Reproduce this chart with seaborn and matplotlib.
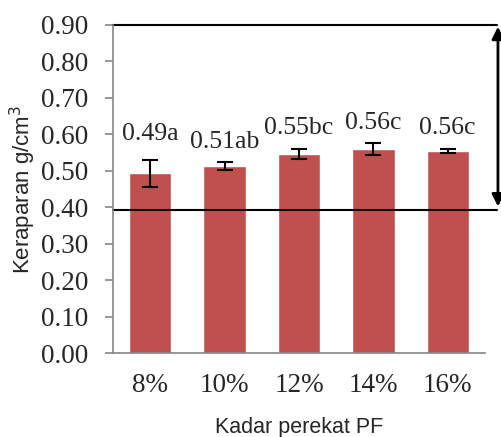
import numpy as np
import pandas as pd
import matplotlib
matplotlib.use("Agg")
import matplotlib.pyplot as plt
import matplotlib.transforms as mtransforms
import seaborn as sns

# data
kadar = ["8%", "10%", "12%", "14%", "16%"]
kerapatan = [0.493, 0.512, 0.546, 0.559, 0.555]
galat = [0.037, 0.011, 0.014, 0.016, 0.005]
notasi = ["0.49a", "0.51ab", "0.55bc", "0.56c", "0.56c"]
batas_bawah = 0.392
batas_atas = 0.90

df = pd.DataFrame({"kadar": kadar, "kerapatan": kerapatan})

sns.set_style("white")
serif = "Liberation Serif"
sans = "Liberation Sans"

fig, ax = plt.subplots(figsize=(5.02, 4.37), dpi=100)
fig.subplots_adjust(left=0.225, right=0.966, bottom=0.192, top=0.943)

sns.barplot(data=df, x="kadar", y="kerapatan", color="#C0504D", saturation=1,
            width=0.57, ax=ax, errorbar=None)
ax.errorbar(np.arange(len(kadar)), kerapatan, yerr=galat, fmt="none",
            ecolor="black", elinewidth=1.5, capsize=6, capthick=1.5)

# label di atas batang
for i, (v, e, t) in enumerate(zip(kerapatan, galat, notasi)):
    ax.annotate(t, (i, v + e), xytext=(0, 7 if i else 11), textcoords="offset points",
                ha="center", va="bottom", fontsize=18.5, family=serif)

ax.set_ylim(0, 0.9)
ax.set_xlim(-0.5, len(kadar) - 0.5)
ax.set_yticks(np.arange(0, 0.91, 0.1))
ax.set_yticklabels([f"{v:.2f}" for v in np.arange(0, 0.91, 0.1)], family=serif, fontsize=19.5)
ax.set_xticks(range(len(kadar)))
ax.set_xticklabels(kadar, family=serif, fontsize=19.5)
ax.set_xticks(np.arange(-0.5, len(kadar)), minor=True)
ax.tick_params(axis="x", which="major", length=0, pad=14)
ax.tick_params(axis="x", which="minor", length=6, color="#868686", width=1.2)
ax.tick_params(axis="y", length=6, color="#868686", width=1.2, left=True, pad=12)

for s in ["top", "right"]:
    ax.spines[s].set_visible(False)
for s in ["left", "bottom"]:
    ax.spines[s].set_color("#868686")
    ax.spines[s].set_linewidth(1.2)

ax.set_xlabel("Kadar perekat PF", family=sans, fontsize=15.5, labelpad=14)
ax.set_ylabel("Keraparan g/cm$^3$", family=sans, fontsize=16, labelpad=2)

# garis batas dan panah
trans = mtransforms.blended_transform_factory(ax.transAxes, ax.transData)
ax.plot([0, 1.033], [batas_bawah, batas_bawah], color="black", lw=1.5,
        transform=trans, clip_on=False)
ax.plot([0, 1.033], [batas_atas, batas_atas], color="black", lw=1.5,
        transform=trans, clip_on=False)
ax.annotate("", xy=(1.035, batas_atas - 0.005), xytext=(1.035, batas_bawah + 0.01),
            xycoords=trans, textcoords=trans,
            arrowprops=dict(arrowstyle="<|-|>", color="black", lw=2,
                            mutation_scale=18, shrinkA=0, shrinkB=0))

fig.savefig("out.png", dpi=100)
